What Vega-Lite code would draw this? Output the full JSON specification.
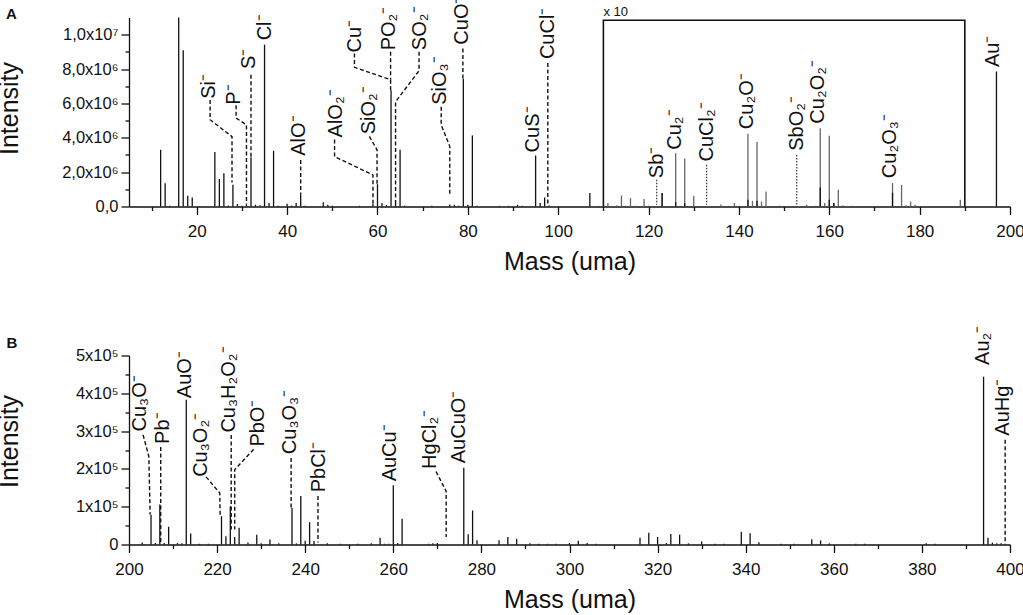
{
"$schema":"https://vega.github.io/schema/vega-lite/v6.json",
"padding":{"left":-3,"top":-3.5,"right":0,"bottom":0},
"background":"white",
"bounds":"flush",
"spacing":149,
"config":{"view":{"stroke":null},"font":"Liberation Sans","axis":{"grid":false,"labelFont":"Liberation Sans","titleFont":"Liberation Sans","titleFontWeight":"normal","titleColor":"#111","labelColor":"#111","domainColor":"#111","tickColor":"#111","domainWidth":1.3,"tickWidth":1.3}},
"datasets":{
"peaksA":[
{"mass":12,"intensity":3300000,"series":"raw"},{"mass":13,"intensity":1360000,"series":"raw"},{"mass":14,"intensity":40000,"series":"raw"},{"mass":16,"intensity":11000000,"series":"raw"},{"mass":17,"intensity":9090000,"series":"raw"},{"mass":18,"intensity":620000,"series":"raw"},{"mass":19,"intensity":520000,"series":"raw"},{"mass":24,"intensity":3170000,"series":"raw"},{"mass":25,"intensity":1600000,"series":"raw"},{"mass":26,"intensity":1940000,"series":"raw"},{"mass":27,"intensity":60000,"series":"raw"},{"mass":28,"intensity":1260000,"series":"raw"},{"mass":29,"intensity":150000,"series":"raw"},{"mass":30,"intensity":50000,"series":"raw"},{"mass":31,"intensity":100000,"series":"raw"},{"mass":32,"intensity":2870000,"series":"raw"},{"mass":33,"intensity":100000,"series":"raw"},{"mass":34,"intensity":80000,"series":"raw"},{"mass":35,"intensity":9420000,"series":"raw"},{"mass":36,"intensity":200000,"series":"raw"},{"mass":37,"intensity":3240000,"series":"raw"},{"mass":38,"intensity":40000,"series":"raw"},{"mass":40,"intensity":160000,"series":"raw"},{"mass":41,"intensity":50000,"series":"raw"},{"mass":42,"intensity":200000,"series":"raw"},{"mass":43,"intensity":680000,"series":"raw"},{"mass":44,"intensity":40000,"series":"raw"},{"mass":48,"intensity":250000,"series":"raw"},{"mass":49,"intensity":100000,"series":"raw"},{"mass":50,"intensity":40000,"series":"raw"},{"mass":56,"intensity":40000,"series":"raw"},{"mass":59,"intensity":150000,"series":"raw"},{"mass":60,"intensity":1300000,"series":"raw"},{"mass":61,"intensity":200000,"series":"raw"},{"mass":62,"intensity":80000,"series":"raw"},{"mass":63,"intensity":6760000,"series":"raw"},{"mass":64,"intensity":150000,"series":"raw"},{"mass":65,"intensity":3300000,"series":"raw"},{"mass":66,"intensity":50000,"series":"raw"},{"mass":72,"intensity":40000,"series":"raw"},{"mass":76,"intensity":120000,"series":"raw"},{"mass":77,"intensity":100000,"series":"raw"},{"mass":78,"intensity":40000,"series":"raw"},{"mass":79,"intensity":7440000,"series":"raw"},{"mass":80,"intensity":100000,"series":"raw"},{"mass":81,"intensity":4140000,"series":"raw"},{"mass":82,"intensity":50000,"series":"raw"},{"mass":87,"intensity":40000,"series":"raw"},{"mass":89,"intensity":40000,"series":"raw"},{"mass":91,"intensity":100000,"series":"raw"},{"mass":92,"intensity":40000,"series":"raw"},{"mass":95,"intensity":2970000,"series":"raw"},{"mass":96,"intensity":200000,"series":"raw"},{"mass":97,"intensity":520000,"series":"raw"},{"mass":98,"intensity":60000,"series":"raw"},{"mass":107,"intensity":780000,"series":"raw"},{"mass":109,"intensity":30000,"series":"raw"},
{"mass":111,"intensity":200000,"series":"x10"},{"mass":113,"intensity":70000,"series":"x10"},{"mass":114,"intensity":640000,"series":"x10"},{"mass":115,"intensity":50000,"series":"x10"},{"mass":116,"intensity":490000,"series":"x10"},{"mass":117,"intensity":50000,"series":"x10"},{"mass":119,"intensity":430000,"series":"x10"},{"mass":120,"intensity":50000,"series":"x10"},{"mass":123,"intensity":780000,"series":"x10"},{"mass":126,"intensity":3100000,"series":"x10"},{"mass":128,"intensity":2800000,"series":"x10"},{"mass":130,"intensity":620000,"series":"x10"},{"mass":136,"intensity":110000,"series":"x10"},{"mass":139,"intensity":200000,"series":"x10"},{"mass":140,"intensity":50000,"series":"x10"},{"mass":142,"intensity":4230000,"series":"x10"},{"mass":143,"intensity":330000,"series":"x10"},{"mass":144,"intensity":3750000,"series":"x10"},{"mass":145,"intensity":290000,"series":"x10"},{"mass":146,"intensity":870000,"series":"x10"},{"mass":149,"intensity":50000,"series":"x10"},{"mass":155,"intensity":100000,"series":"x10"},{"mass":157,"intensity":50000,"series":"x10"},{"mass":158,"intensity":4560000,"series":"x10"},{"mass":159,"intensity":200000,"series":"x10"},{"mass":160,"intensity":4120000,"series":"x10"},{"mass":161,"intensity":200000,"series":"x10"},{"mass":162,"intensity":970000,"series":"x10"},{"mass":163,"intensity":70000,"series":"x10"},{"mass":165,"intensity":50000,"series":"x10"},{"mass":174,"intensity":1360000,"series":"x10"},{"mass":176,"intensity":1260000,"series":"x10"},{"mass":177,"intensity":70000,"series":"x10"},{"mass":178,"intensity":290000,"series":"x10"},{"mass":179,"intensity":100000,"series":"x10"},{"mass":189,"intensity":390000,"series":"x10"},
{"mass":123,"intensity":780000,"series":"raw"},{"mass":126,"intensity":250000,"series":"raw"},{"mass":128,"intensity":190000,"series":"raw"},{"mass":142,"intensity":390000,"series":"raw"},{"mass":144,"intensity":330000,"series":"raw"},{"mass":158,"intensity":1100000,"series":"raw"},{"mass":160,"intensity":390000,"series":"raw"},{"mass":161,"intensity":200000,"series":"raw"},{"mass":174,"intensity":800000,"series":"raw"},{"mass":197,"intensity":7860000,"series":"raw"}
],
"peaksB":[
{"mass":203,"intensity":5000},{"mass":205,"intensity":79000},{"mass":206,"intensity":4000},{"mass":207,"intensity":106000},{"mass":208,"intensity":4000},{"mass":209,"intensity":47000},{"mass":211,"intensity":4000},{"mass":212,"intensity":3000},{"mass":213,"intensity":383000},{"mass":214,"intensity":29000},{"mass":216,"intensity":2000},{"mass":218,"intensity":2000},{"mass":221,"intensity":75000},{"mass":222,"intensity":22000},{"mass":223,"intensity":101000},{"mass":224,"intensity":20000},{"mass":225,"intensity":44000},{"mass":227,"intensity":5000},{"mass":229,"intensity":26000},{"mass":230,"intensity":3000},{"mass":232,"intensity":13000},{"mass":234,"intensity":3000},{"mass":237,"intensity":97000},{"mass":238,"intensity":3000},{"mass":239,"intensity":128000},{"mass":240,"intensity":10000},{"mass":241,"intensity":59000},{"mass":242,"intensity":9000},{"mass":245,"intensity":3000},{"mass":248,"intensity":2000},{"mass":252,"intensity":2000},{"mass":255,"intensity":3000},{"mass":257,"intensity":18000},{"mass":258,"intensity":2000},{"mass":259,"intensity":2000},{"mass":260,"intensity":157000},{"mass":261,"intensity":4000},{"mass":262,"intensity":68000},{"mass":268,"intensity":2000},{"mass":269,"intensity":3000},{"mass":270,"intensity":4000},{"mass":276,"intensity":203000},{"mass":277,"intensity":27000},{"mass":278,"intensity":90000},{"mass":279,"intensity":11000},{"mass":284,"intensity":11000},{"mass":286,"intensity":20000},{"mass":288,"intensity":15000},{"mass":291,"intensity":3000},{"mass":293,"intensity":2000},{"mass":295,"intensity":2000},{"mass":297,"intensity":2000},{"mass":300,"intensity":4000},{"mass":302,"intensity":10000},{"mass":304,"intensity":4000},{"mass":306,"intensity":2000},{"mass":316,"intensity":18000},{"mass":318,"intensity":31000},{"mass":320,"intensity":20000},{"mass":322,"intensity":4000},{"mass":323,"intensity":28000},{"mass":325,"intensity":26000},{"mass":327,"intensity":3000},{"mass":330,"intensity":8000},{"mass":333,"intensity":2000},{"mass":335,"intensity":2000},{"mass":339,"intensity":34000},{"mass":341,"intensity":30000},{"mass":343,"intensity":6000},{"mass":348,"intensity":2000},{"mass":351,"intensity":2000},{"mass":355,"intensity":14000},{"mass":357,"intensity":11000},{"mass":359,"intensity":3000},{"mass":365,"intensity":2000},{"mass":367,"intensity":2000},{"mass":381,"intensity":3000},{"mass":383,"intensity":2000},{"mass":394,"intensity":444000},{"mass":395,"intensity":18000},{"mass":396,"intensity":5000},{"mass":397,"intensity":3000},{"mass":398,"intensity":3000}
],
"labelsA":[
{"label":"Si⁻","mass":22.6,"intensity":6270000},{"label":"P⁻","mass":28.3,"intensity":5920000},{"label":"S⁻","mass":31.6,"intensity":8000000},{"label":"Cl⁻","mass":35.1,"intensity":9670000},{"label":"AlO⁻","mass":42.6,"intensity":2950000},{"label":"AlO₂⁻","mass":50.8,"intensity":4020000},{"label":"SiO₂⁻","mass":58.2,"intensity":4200000},{"label":"Cu⁻","mass":55,"intensity":8970000},{"label":"PO₂⁻","mass":62.5,"intensity":9090000},{"label":"SO₂⁻","mass":69.5,"intensity":9100000},{"label":"SiO₃⁻","mass":73.9,"intensity":5920000},{"label":"CuO⁻","mass":78.7,"intensity":9420000},{"label":"CuS⁻","mass":94.5,"intensity":3150000},{"label":"CuCl⁻","mass":97.7,"intensity":8580000},{"label":"Sb⁻","mass":121.8,"intensity":1650000},{"label":"Cu₂⁻","mass":125.8,"intensity":3300000},{"label":"CuCl₂⁻","mass":132.9,"intensity":2620000},{"label":"Cu₂O⁻","mass":141.7,"intensity":4500000},{"label":"SbO₂⁻","mass":152.8,"intensity":3240000},{"label":"Cu₂O₂⁻","mass":157.6,"intensity":4820000},{"label":"Cu₂O₃⁻","mass":173.5,"intensity":1650000},{"label":"Au⁻","mass":196.3,"intensity":8120000}
],
"labelsB":[
{"label":"Cu₃O⁻","mass":202.4,"intensity":299000},{"label":"Pb⁻","mass":207.7,"intensity":266000},{"label":"AuO⁻","mass":212.8,"intensity":387000},{"label":"Cu₃O₂⁻","mass":216.4,"intensity":179000},{"label":"Cu₃H₂O₂⁻","mass":222.8,"intensity":296000},{"label":"PbO⁻","mass":229.3,"intensity":259000},{"label":"Cu₃O₃⁻","mass":236.6,"intensity":239000},{"label":"PbCl⁻","mass":243.1,"intensity":138000},{"label":"AuCu⁻","mass":259.3,"intensity":167000},{"label":"HgCl₂⁻","mass":268.3,"intensity":200000},{"label":"AuCuO⁻","mass":275,"intensity":215000},{"label":"Au₂⁻","mass":393.8,"intensity":475000},{"label":"AuHg⁻","mass":398.3,"intensity":288000}
],
"leadersA":[
{"ion":"Si","seq":1,"mass":22.95,"intensity":6200000},{"ion":"Si","seq":2,"mass":22.95,"intensity":5050000},{"ion":"Si","seq":3,"mass":27.8,"intensity":4070000},{"ion":"Si","seq":4,"mass":27.8,"intensity":1400000},
{"ion":"P","seq":1,"mass":28.7,"intensity":5900000},{"ion":"P","seq":2,"mass":28.7,"intensity":5150000},{"ion":"P","seq":3,"mass":31,"intensity":4750000},{"ion":"P","seq":4,"mass":31,"intensity":100000},
{"ion":"S","seq":1,"mass":32,"intensity":7670000},{"ion":"S","seq":2,"mass":32,"intensity":2900000},
{"ion":"AlO","seq":1,"mass":43,"intensity":2700000},{"ion":"AlO","seq":2,"mass":43,"intensity":680000},
{"ion":"AlO2","seq":1,"mass":50.5,"intensity":3900000},{"ion":"AlO2","seq":2,"mass":50.5,"intensity":2900000},{"ion":"AlO2","seq":3,"mass":59,"intensity":1840000},{"ion":"AlO2","seq":4,"mass":59,"intensity":100000},
{"ion":"SiO2","seq":1,"mass":58.2,"intensity":4080000},{"ion":"SiO2","seq":2,"mass":59.9,"intensity":3300000},{"ion":"SiO2","seq":3,"mass":59.9,"intensity":1300000},
{"ion":"Cu","seq":1,"mass":54.9,"intensity":8900000},{"ion":"Cu","seq":2,"mass":54.9,"intensity":8100000},{"ion":"Cu","seq":3,"mass":62.9,"intensity":7380000},{"ion":"Cu","seq":4,"mass":62.9,"intensity":6760000},
{"ion":"PO2","seq":1,"mass":62.9,"intensity":9000000},{"ion":"PO2","seq":2,"mass":62.9,"intensity":7380000},
{"ion":"SO2","seq":1,"mass":69.2,"intensity":9000000},{"ion":"SO2","seq":2,"mass":69.2,"intensity":7900000},{"ion":"SO2","seq":3,"mass":64,"intensity":6100000},{"ion":"SO2","seq":4,"mass":64,"intensity":100000},
{"ion":"SiO3","seq":1,"mass":74.1,"intensity":5800000},{"ion":"SiO3","seq":2,"mass":74.1,"intensity":4750000},{"ion":"SiO3","seq":3,"mass":76,"intensity":3500000},{"ion":"SiO3","seq":4,"mass":76,"intensity":680000},
{"ion":"CuO","seq":1,"mass":78.9,"intensity":9200000},{"ion":"CuO","seq":2,"mass":78.9,"intensity":7440000},
{"ion":"CuCl","seq":1,"mass":97.7,"intensity":8350000},{"ion":"CuCl","seq":2,"mass":97.7,"intensity":100000}
],
"dottedA":[
{"ion":"Sb","seq":1,"mass":121.8,"intensity":1550000},{"ion":"Sb","seq":2,"mass":121.8,"intensity":100000},
{"ion":"CuCl2","seq":1,"mass":132.85,"intensity":2430000},{"ion":"CuCl2","seq":2,"mass":132.85,"intensity":100000},
{"ion":"SbO2","seq":1,"mass":152.8,"intensity":3000000},{"ion":"SbO2","seq":2,"mass":152.8,"intensity":100000}
],
"boxA":[
{"seq":1,"mass":110,"intensity":0},{"seq":2,"mass":110,"intensity":10840000},{"seq":3,"mass":190,"intensity":10840000},{"seq":4,"mass":190,"intensity":0}
],
"leadersB":[
{"ion":"Cu3O","seq":1,"mass":203.2,"intensity":290000},{"ion":"Cu3O","seq":2,"mass":204.5,"intensity":233000},{"ion":"Cu3O","seq":3,"mass":204.8,"intensity":79000},
{"ion":"Pb","seq":1,"mass":207.2,"intensity":258000},{"ion":"Pb","seq":2,"mass":207.2,"intensity":5000},
{"ion":"Cu3O2","seq":1,"mass":217.5,"intensity":179000},{"ion":"Cu3O2","seq":2,"mass":220.6,"intensity":136000},{"ion":"Cu3O2","seq":3,"mass":220.7,"intensity":75000},
{"ion":"Cu3H2O2","seq":1,"mass":223.2,"intensity":290000},{"ion":"Cu3H2O2","seq":2,"mass":223.2,"intensity":40000},
{"ion":"PbO","seq":1,"mass":228.3,"intensity":252000},{"ion":"PbO","seq":2,"mass":224,"intensity":198000},{"ion":"PbO","seq":3,"mass":224,"intensity":40000},
{"ion":"Cu3O3","seq":1,"mass":236.8,"intensity":229000},{"ion":"Cu3O3","seq":2,"mass":236.8,"intensity":97000},
{"ion":"PbCl","seq":1,"mass":242.9,"intensity":128000},{"ion":"PbCl","seq":2,"mass":242.9,"intensity":5000},
{"ion":"HgCl2","seq":1,"mass":269.7,"intensity":193000},{"ion":"HgCl2","seq":2,"mass":272,"intensity":141000},{"ion":"HgCl2","seq":3,"mass":272,"intensity":20000},
{"ion":"AuHg","seq":1,"mass":398.9,"intensity":277000},{"ion":"AuHg","seq":2,"mass":398.9,"intensity":0}
]
},
"vconcat":[
{"width":881,"height":189,
"resolve":{"axis":{"x":"independent","y":"independent"}},
"layer":[
{"data":{"name":"peaksA"},"mark":{"type":"rule","strokeWidth":1.3},
"encoding":{"x":{"field":"mass","type":"quantitative","scale":{"domain":[5,200],"nice":false,"zero":false},
"axis":{"orient":"bottom","values":[20,40,60,80,100,120,140,160,180,200],"tickSize":8,"labelFontSize":17,"labelPadding":9,"title":"Mass (uma)","titleFontSize":25,"titlePadding":10,"labelFlush":false}},
"y":{"field":"intensity","type":"quantitative","scale":{"domain":[0,11000000],"nice":false},
"axis":{"orient":"left","values":[0,2000000,4000000,6000000,8000000,10000000],"tickSize":8,"labelFontSize":16.5,"labelPadding":3,"title":"Intensity","titleFontSize":25,"titleX":-107,"titleY":90.5,
"labelExpr":"datum.value===0?'0,0':datum.value===10000000?'1,0x10⁷':replace(format(datum.value/1000000,'.1f'),'.',',')+'x10⁶'"}},
"y2":{"datum":0},
"color":{"field":"series","type":"nominal","scale":{"domain":["raw","x10"],"range":["#111111","#666666"]},"legend":null},
"order":{"field":"series","sort":"descending"}}},
{"data":{"name":"leadersA"},"mark":{"type":"line","stroke":"#111","strokeWidth":1.4,"strokeDash":[4,2.5]},
"encoding":{"x":{"field":"mass","type":"quantitative","axis":null},"y":{"field":"intensity","type":"quantitative","axis":null},"detail":{"field":"ion"},"order":{"field":"seq"}}},
{"data":{"name":"dottedA"},"mark":{"type":"line","stroke":"#333","strokeWidth":1.2,"strokeDash":[1.5,1.5]},
"encoding":{"x":{"field":"mass","type":"quantitative","axis":null},"y":{"field":"intensity","type":"quantitative","axis":null},"detail":{"field":"ion"},"order":{"field":"seq"}}},
{"data":{"name":"boxA"},"mark":{"type":"line","stroke":"#111","strokeWidth":1.6},
"encoding":{"x":{"field":"mass","type":"quantitative","axis":null},"y":{"field":"intensity","type":"quantitative","axis":null},"order":{"field":"seq"}}},
{"data":{"values":[{"note":"x 10","mass":110,"intensity":11300000}]},"mark":{"type":"text","align":"left","baseline":"middle","fontSize":13,"color":"#111"},
"encoding":{"x":{"field":"mass","type":"quantitative","axis":null},"y":{"field":"intensity","type":"quantitative","axis":null},"text":{"field":"note"}}},
{"data":{"values":[{"note":"A","mass":-21,"intensity":11200000}]},"mark":{"type":"text","align":"center","baseline":"middle","fontSize":15,"fontWeight":"bold","color":"#111"},
"encoding":{"x":{"field":"mass","type":"quantitative","axis":null},"y":{"field":"intensity","type":"quantitative","axis":null},"text":{"field":"note"}}},
{"data":{"name":"labelsA"},"mark":{"type":"text","angle":270,"align":"left","baseline":"middle","fontSize":20,"color":"#111"},
"encoding":{"x":{"field":"mass","type":"quantitative","axis":{"orient":"bottom","values":[10,30,50,70,90,110,130,150,170,190],"labels":false,"domain":false,"tickSize":4,"title":null}},
"y":{"field":"intensity","type":"quantitative","axis":{"orient":"left","values":[1000000,3000000,5000000,7000000,9000000],"labels":false,"domain":false,"tickSize":4,"title":null}},
"text":{"field":"label"}}}
]},
{"width":881,"height":189,
"resolve":{"axis":{"x":"independent","y":"independent"}},
"layer":[
{"data":{"name":"peaksB"},"mark":{"type":"rule","strokeWidth":1.3,"color":"#111"},
"encoding":{"x":{"field":"mass","type":"quantitative","scale":{"domain":[200,400],"nice":false,"zero":false},
"axis":{"orient":"bottom","values":[200,220,240,260,280,300,320,340,360,380,400],"tickSize":8,"labelFontSize":17,"labelPadding":9,"title":"Mass (uma)","titleFontSize":25,"titlePadding":10,"labelFlush":false}},
"y":{"field":"intensity","type":"quantitative","scale":{"domain":[0,500000],"nice":false},
"axis":{"orient":"left","values":[0,100000,200000,300000,400000,500000],"tickSize":8,"labelFontSize":16.5,"labelPadding":3,"title":"Intensity","titleFontSize":25,"titleX":-107,"titleY":85.5,
"labelExpr":"datum.value===0?'0':format(datum.value/100000,'d')+'x10⁵'"}},
"y2":{"datum":0}}},
{"data":{"name":"leadersB"},"mark":{"type":"line","stroke":"#111","strokeWidth":1.4,"strokeDash":[4,2.5]},
"encoding":{"x":{"field":"mass","type":"quantitative","axis":null},"y":{"field":"intensity","type":"quantitative","axis":null},"detail":{"field":"ion"},"order":{"field":"seq"}}},
{"data":{"values":[{"note":"B","mass":173.4,"intensity":534000}]},"mark":{"type":"text","align":"center","baseline":"middle","fontSize":15,"fontWeight":"bold","color":"#111"},
"encoding":{"x":{"field":"mass","type":"quantitative","axis":null},"y":{"field":"intensity","type":"quantitative","axis":null},"text":{"field":"note"}}},
{"data":{"name":"labelsB"},"mark":{"type":"text","angle":270,"align":"left","baseline":"middle","fontSize":20,"color":"#111"},
"encoding":{"x":{"field":"mass","type":"quantitative","axis":{"orient":"bottom","values":[210,230,250,270,290,310,330,350,370,390],"labels":false,"domain":false,"tickSize":4,"title":null}},
"y":{"field":"intensity","type":"quantitative","axis":{"orient":"left","values":[50000,150000,250000,350000,450000],"labels":false,"domain":false,"tickSize":4,"title":null}},
"text":{"field":"label"}}}
]}
]
}
